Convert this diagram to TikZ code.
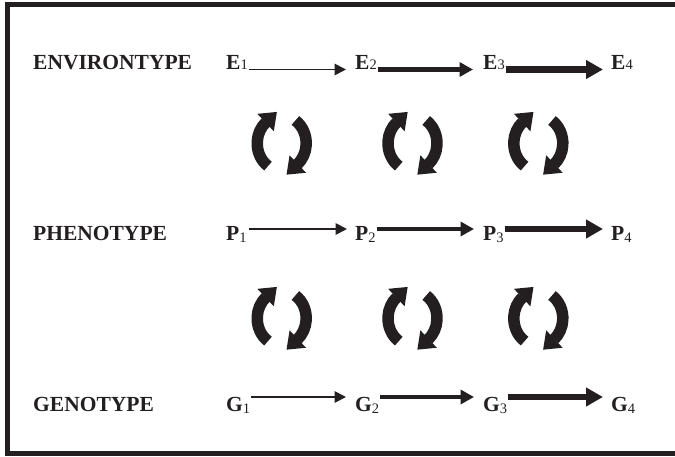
\documentclass[tikz,border=0pt]{standalone}
\usepackage{fontspec}
\setmainfont{Liberation Serif}
\usetikzlibrary{arrows.meta}
\definecolor{ink}{HTML}{231F20}
\newcommand\sd[2][0pt]{\raisebox{#1}{\fontsize{14.5}{14.5}\mdseries\selectfont #2}}
\begin{document}
\begin{tikzpicture}[x=1pt,y=1pt,
  lbl/.style={anchor=base west, inner sep=0pt, text=ink, font=\fontsize{21.5}{24}\selectfont\bfseries},
  arrA/.style={draw=ink, line width=1.8pt, -{Triangle[length=11.5pt,width=11.5pt]}},
  arrB/.style={draw=ink, line width=4.2pt, -{Triangle[length=13.5pt,width=14pt]}},
  arrC/.style={draw=ink, line width=6.5pt, -{Triangle[length=17pt,width=18pt]}},
  cycpair/.pic={
    \draw[ink, line width=11.5pt] (-13.70,-22.80) arc[start angle=236,end angle=130,x radius=24.5,y radius=27.5];
    \fill[ink, shift={(-15.75,21.07)}, rotate=43.3] (-0.5,12) -- (-0.5,-12) -- (15,0) -- cycle;
    \draw[ink, line width=11.5pt] (13.70,22.80) arc[start angle=56,end angle=-50,x radius=24.5,y radius=27.5];
    \fill[ink, shift={(15.75,-21.07)}, rotate=223.3] (-0.5,12) -- (-0.5,-12) -- (15,0) -- cycle;
  }
]
\useasboundingbox (0,0) rectangle (675,456);
\clip (0,0) rectangle (675,456);
\draw[ink, line width=5pt] (700,451) -- (7,451) -- (7,2.5) -- (700,2.5);

% row labels
\node[lbl] (envlab) at (33,386) {ENVIRONTYPE};
\node[lbl] (phelab) at (33,215) {PHENOTYPE};
\node[lbl] (genlab) at (33,44.5) {GENOTYPE};

% environtype row
\node[lbl] (e1) at (226,386) {E\sd[0.5pt]{1}};
\node[lbl] (e2) at (355,386) {E\sd[0.5pt]{2}};
\node[lbl] (e3) at (483,386) {E\sd[0.5pt]{3}};
\node[lbl] (e4) at (611,386) {E\sd[0.5pt]{4}};
\draw[arrA] ([xshift=1pt,yshift=0.5pt]e1.base east) -- ([xshift=-9pt,yshift=0.5pt]e2.base west);
\draw[arrB] ([xshift=1pt,yshift=0.5pt]e2.base east) -- ([xshift=-10pt,yshift=0.5pt]e3.base west);
\draw[arrC] ([xshift=1pt,yshift=0.5pt]e3.base east) -- ([xshift=-8pt,yshift=0.5pt]e4.base west);

% phenotype row
\node[lbl] (p1) at (226,215) {P\sd[-1.3pt]{1}};
\node[lbl] (p2) at (355,215) {P\sd[-1.3pt]{2}};
\node[lbl] (p3) at (483,215) {P\sd[-1.3pt]{3}};
\node[lbl] (p4) at (611,215) {P\sd[-1.3pt]{4}};
\draw[arrA] ([xshift=2pt,yshift=12pt]p1.base east) -- ([xshift=-8pt,yshift=12pt]p2.base west);
\draw[arrB] ([xshift=1pt,yshift=12pt]p2.base east) -- ([xshift=-9pt,yshift=12pt]p3.base west);
\draw[arrC] ([xshift=1pt,yshift=12pt]p3.base east) -- ([xshift=-8pt,yshift=12pt]p4.base west);

% genotype row
\node[lbl] (g1) at (226,44.5) {G\sd[-1.5pt]{1}};
\node[lbl] (g2) at (355,44.5) {G\sd[-1.5pt]{2}};
\node[lbl] (g3) at (483,44.5) {G\sd[-1.5pt]{3}};
\node[lbl] (g4) at (611,44.5) {G\sd[-1.5pt]{4}};
\draw[arrA] ([xshift=1pt,yshift=14.5pt]g1.base east) -- ([xshift=-9pt,yshift=14.5pt]g2.base west);
\draw[arrB] ([xshift=1pt,yshift=14.5pt]g2.base east) -- ([xshift=-9pt,yshift=14.5pt]g3.base west);
\draw[arrC] ([xshift=1pt,yshift=14.5pt]g3.base east) -- ([xshift=-8pt,yshift=14.5pt]g4.base west);

% feedback cycles
\pic at (281.7,312.7) {cycpair};
\pic at (412.5,312.7) {cycpair};
\pic at (538.3,312.7) {cycpair};
\pic at (281.7,137.7) {cycpair};
\pic at (412.5,137.7) {cycpair};
\pic at (538.3,137.7) {cycpair};
\end{tikzpicture}
\end{document}
